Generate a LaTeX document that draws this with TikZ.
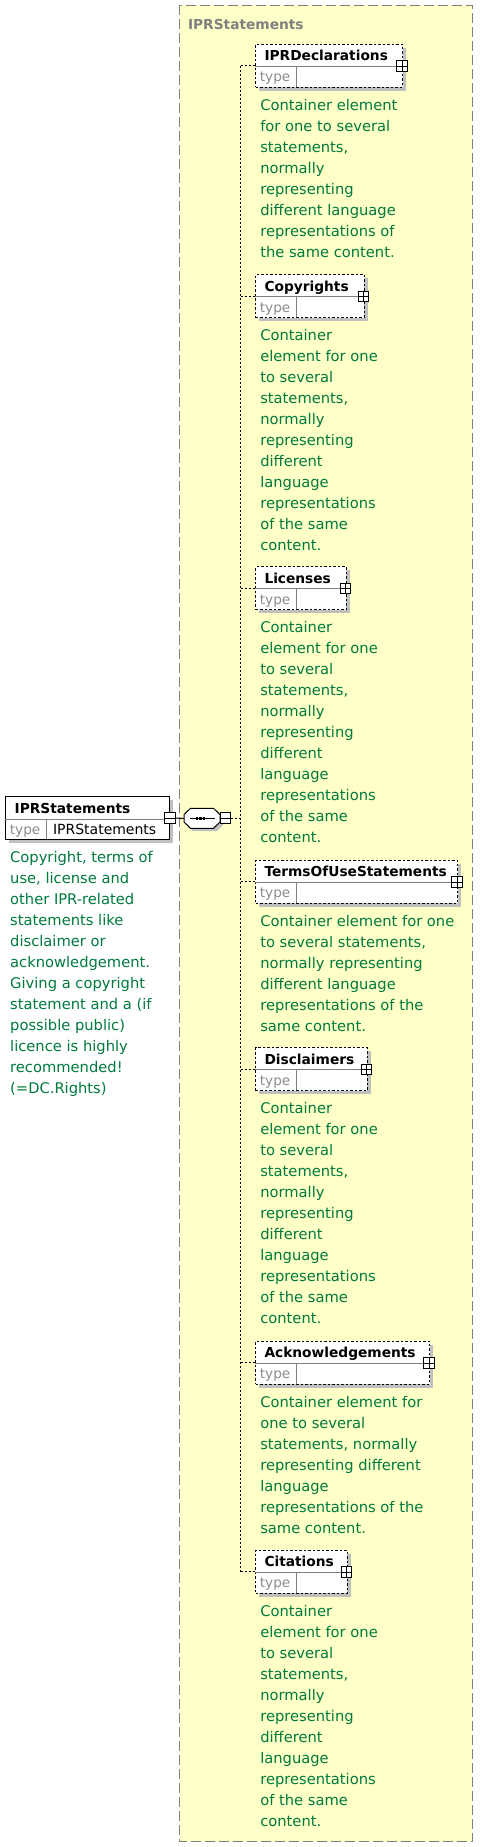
\documentclass[tikz,border=0pt]{standalone}
\usepackage{fontspec}
\setmainfont{DejaVu Sans}
\definecolor{greent}{RGB}{0,122,61}
\definecolor{yel}{RGB}{255,255,200}
\definecolor{graybrd}{RGB}{128,128,128}
\definecolor{shad}{RGB}{192,192,192}
\definecolor{typec}{RGB}{140,140,140}
\tikzset{
 ebox/.style={draw=black, fill=white, line width=1pt, dash pattern=on 2.5pt off 2pt, inner sep=0, rectangle},
 rbox/.style={draw=black, fill=white, line width=1pt, inner sep=0, rectangle},
 pbox/.style={draw=black, fill=white, line width=1pt, minimum size=10.5pt, inner sep=0, rectangle},
 conn/.style={draw=black, line width=1pt, dash pattern=on 2pt off 2pt},
 solidconn/.style={draw=black, line width=1pt},
 divline/.style={draw=graybrd, line width=1pt},
 lbl/.style={font=\fontsize{13.75}{16}\selectfont\bfseries, inner sep=0, anchor=base west},
 typet/.style={font=\fontsize{13.6}{16}\selectfont, text=typec, inner sep=0, anchor=base west},
 typev/.style={font=\fontsize{14}{16}\selectfont, text=black, inner sep=0, anchor=base west},
 desc/.style={font=\fontsize{14.7}{21}\selectfont, text=greent, inner sep=0, anchor=base west},
}
% name, label, x, top, width, description
\newcommand{\xelem}[6]{%
  \fill[shad] ({#3+4},{#4+4}) rectangle ({#3+#5+4},{#4+43+4});
  \node[ebox, minimum width=#5pt, minimum height=43pt, anchor=north west] (#1) at (#3,#4) {};
  \draw[divline] (#3,{#4+22.6}) -- ({#3+#5},{#4+22.6});
  \draw[divline] ({#3+41},{#4+22.6}) -- ({#3+41},{#4+43});
  \node[lbl] (#1-l) at ({#3+9},{#4+17}) {#2};
  \node[typet] (#1-t) at ({#3+4.4},{#4+38.2}) {type};
  \node[pbox] (#1-p) at ({#3+#5},{#4+22.3}) {};
  \draw[line width=1pt] (#1-p.north) -- (#1-p.south) (#1-p.west) -- (#1-p.east);
  \node[desc] (#1-d) at ({#3+4.8},{#4+66.5}) {\parbox[t]{220pt}{\raggedright #6}};
}
\begin{document}
\begin{tikzpicture}[x=1pt,y=-1pt]
\useasboundingbox (0,0) rectangle (491,1847);
\fill[white] (0,0) rectangle (491,1847);
% group box
\draw[fill=yel, draw=graybrd, line width=1pt, dash pattern=on 10pt off 4pt] (179.8,5.3) rectangle (472.3,1841.7);
\node[lbl, text=graybrd] (grp) at (187.8,29) {IPRStatements};

% root element
\fill[shad] (9.3,800) rectangle (173.3,843.3);
\node[rbox, minimum width=164pt, minimum height=43.3pt, anchor=north west] (root) at (5.3,796) {};
\draw[divline] (5.3,819.3) -- (169.3,819.3);
\draw[divline] (46.7,819.3) -- (46.7,839.3);
\node[lbl] (root-l) at (14.5,813) {IPRStatements};
\node[typet] (root-t) at (9.7,834.5) {type};
\node[typev] (root-v) at (52.8,834.5) {IPRStatements};
\node[desc] (root-d) at (10,862.7) {\parbox[t]{170pt}{\raggedright Copyright, terms of\\use, license and\\other IPR-related\\statements like\\disclaimer or\\acknowledgement.\\Giving a copyright\\statement and a (if\\possible public)\\licence is highly\\recommended!\\(=DC.Rights)}};

% sequence compositor
\node[minimum width=36pt, minimum height=20pt, inner sep=0] (seq) at (202,818.3) {};
\fill[shad] (187,817) -- (193,811) -- (217,811) -- (223,817) -- (223,825) -- (217,831) -- (193,831) -- (187,825) -- cycle;
\draw[fill=white, line width=1pt] (184,814.5) -- (190.5,808.3) -- (213.5,808.3) -- (220,814.5) -- (220,822) -- (213.5,828.3) -- (190.5,828.3) -- (184,822) -- cycle;
\draw[line width=1pt] (190,818.3) -- (215,818.3);
\fill (196,816.8) rectangle (198.2,819.8);
\fill (199.4,816.8) rectangle (201.6,819.8);
\fill (202.8,816.8) rectangle (205,819.8);
\node[pbox] (root-m) at (169.8,818.2) {};
\draw[line width=1pt] (root-m.west) -- (root-m.east);
\node[pbox] (seq-m) at (225.3,818.2) {};
\draw[line width=1pt] (seq-m.west) -- (seq-m.east);
\draw[solidconn] (root-m.east) -- (seq.west);
\coordinate (spine) at (240.7,818.2);
\draw[conn] (seq-m.east) -- (spine);

% child elements
\xelem{decl}{IPRDeclarations}{255.3}{43.7}{146.7}{Container element\\for one to several\\statements,\\normally\\representing\\different language\\representations of\\the same content.}
\xelem{copy}{Copyrights}{255.3}{274}{108.4}{Container\\element for one\\to several\\statements,\\normally\\representing\\different\\language\\representations\\of the same\\content.}
\xelem{lic}{Licenses}{255.3}{566.3}{90.4}{Container\\element for one\\to several\\statements,\\normally\\representing\\different\\language\\representations\\of the same\\content.}
\xelem{terms}{TermsOfUseStatements}{255.3}{859.7}{201.7}{Container element for one\\to several statements,\\normally representing\\different language\\representations of the\\same content.}
\xelem{disc}{Disclaimers}{255.3}{1047.3}{111.4}{Container\\element for one\\to several\\statements,\\normally\\representing\\different\\language\\representations\\of the same\\content.}
\xelem{ack}{Acknowledgements}{255.3}{1340.7}{173.7}{Container element for\\one to several\\statements, normally\\representing different\\language\\representations of the\\same content.}
\xelem{cit}{Citations}{255.3}{1549.7}{91.4}{Container\\element for one\\to several\\statements,\\normally\\representing\\different\\language\\representations\\of the same\\content.}

% connectors
\draw[conn] (decl.west -| spine) -- (cit.west -| spine);
\foreach \e in {decl,copy,lic,terms,disc,ack,cit}{
  \draw[conn] (\e.west -| spine) -- (\e.west);
}
\end{tikzpicture}
\end{document}
